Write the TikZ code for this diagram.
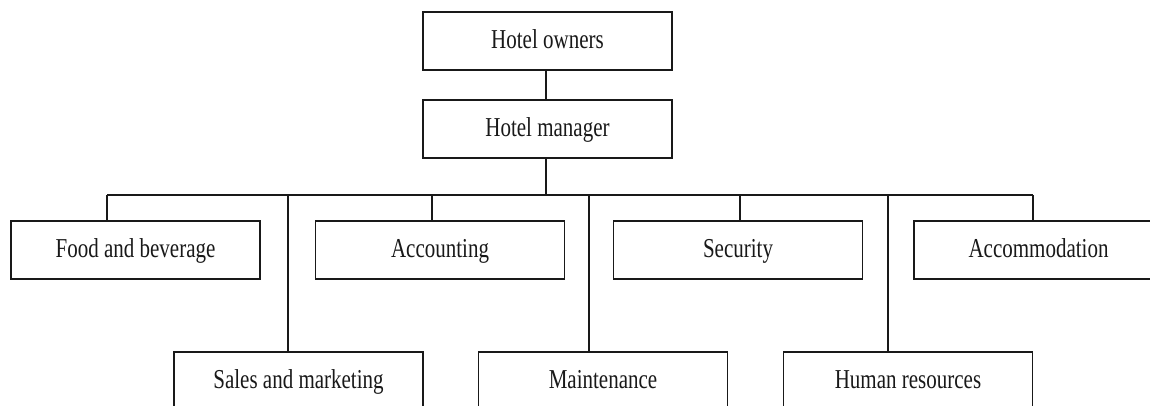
\documentclass[tikz,border=0pt]{standalone}
\usepackage{fontspec}
\setmainfont{Liberation Serif}
\newcommand{\tallt}[1]{\scalebox{1}[1.3]{#1}}
\begin{document}
\begin{tikzpicture}[x=1pt,y=-1pt,
  orgbox/.style={draw=black!90, line width=1.6pt, rectangle, minimum width=249pt, minimum height=58pt,
    inner sep=0pt, font=\fontsize{21pt}{25pt}\selectfont, text height=15pt, text depth=0pt, text=black!90},
  link/.style={draw=black!90, line width=1.6pt}]
\useasboundingbox (0,0) rectangle (1150,406);
\clip (0,0) rectangle (1150,406);
\fill[white] (0,0) rectangle (1150,406);
% nodes
\node[orgbox] (own) at (547.5,41) {\tallt{Hotel owners}};
\node[orgbox] (man) at (547.5,129) {\tallt{Hotel manager}};
\node[orgbox] (food) at (135.5,250) {\tallt{Food and beverage}};
\node[orgbox] (acc) at (440,250) {\tallt{Accounting}};
\node[orgbox] (sec) at (738,250) {\tallt{Security}};
\node[orgbox] (accom) at (1038.5,250) {\tallt{Accommodation}};
\node[orgbox] (sales) at (298.5,381) {\tallt{Sales and marketing}};
\node[orgbox] (maint) at (603,381) {\tallt{Maintenance}};
\node[orgbox] (hr) at (908,381) {\tallt{Human resources}};
% bus coordinates
\coordinate (hub) at (546,195);
\coordinate (b1) at (107,195);
\coordinate (b2) at (288,195);
\coordinate (b3) at (432,195);
\coordinate (b4) at (589,195);
\coordinate (b5) at (740,195);
\coordinate (b6) at (888,195);
\coordinate (b7) at (1033,195);
% connectors
\draw[link] (own.south -| hub) -- (man.north -| hub);
\draw[link] (man.south -| hub) -- (hub);
\draw[link] (b1) -- (b7);
\draw[link] (b1) -- (b1 |- food.north);
\draw[link] (b2) -- (b2 |- sales.north);
\draw[link] (b3) -- (b3 |- acc.north);
\draw[link] (b4) -- (b4 |- maint.north);
\draw[link] (b5) -- (b5 |- sec.north);
\draw[link] (b6) -- (b6 |- hr.north);
\draw[link] (b7) -- (b7 |- accom.north);
\end{tikzpicture}
\end{document}
